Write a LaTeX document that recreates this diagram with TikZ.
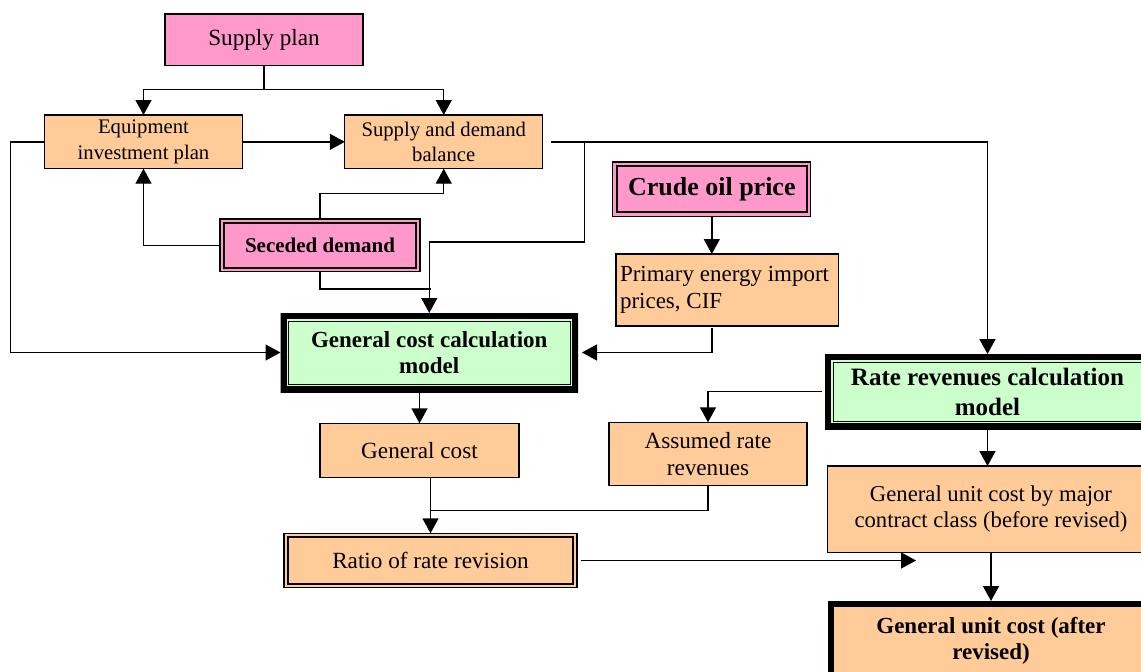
\documentclass[tikz,border=0pt]{standalone}
\usepackage{fontspec}
\setmainfont{Liberation Serif}
\usetikzlibrary{arrows.meta,calc}
\definecolor{pinkc}{RGB}{255,153,204}
\definecolor{orangec}{RGB}{255,204,153}
\definecolor{greenc}{RGB}{204,255,204}
\newcommand\fsTop{\fontsize{20.7}{25.7}\selectfont}
\newcommand\fsMid{\fontsize{23.2}{26.6}\selectfont}
\tikzset{
  box/.style={draw=black, line width=1.3pt, inner sep=0pt, outer sep=0pt, align=center},
  pinkbox/.style={box, fill=pinkc},
  orangebox/.style={box, fill=orangec},
  dblline/.style={path picture={\draw[line width=2.3pt]
      ([shift={(4pt,-4pt)}]path picture bounding box.north west) rectangle
      ([shift={(-4pt,4pt)}]path picture bounding box.south east);}},
  thickdbl/.style={inner sep=0pt, outer sep=0pt, align=center,
    path picture={\draw[line width=12pt]
      (path picture bounding box.north west) rectangle (path picture bounding box.south east);
      \draw[line width=1pt]
      ([shift={(8pt,-8pt)}]path picture bounding box.north west) rectangle
      ([shift={(-8pt,8pt)}]path picture bounding box.south east);}},
  thickone/.style={inner sep=0pt, outer sep=0pt, align=center,
    path picture={\draw[line width=12pt]
      (path picture bounding box.north west) rectangle (path picture bounding box.south east);}},
  conn/.style={line width=1.4pt},
  arr/.style={conn, -{Triangle[length=15pt,width=16pt]}},
}
\begin{document}
\begin{tikzpicture}[x=1pt,y=-1pt]
\useasboundingbox (0,0) rectangle (1141,672);
\fill[white] (0,0) rectangle (1141,672);
\clip (0,0) rectangle (1141,672);

% nodes
\node[pinkbox, minimum width=198pt, minimum height=51.7pt, font=\fsMid] (supply) at (264,39.85) {Supply plan};
\node[orangebox, minimum width=197.4pt, minimum height=53.7pt, font=\fsTop] (equip) at (143.5,141.85) {Equipment\\investment plan};
\node[orangebox, minimum width=197.9pt, minimum height=53.7pt, font=\fsTop] (sdb) at (443.75,141.85) {Supply and demand\\balance};
\node[pinkbox, dblline, minimum width=200pt, minimum height=52.7pt, font=\fontsize{21}{25}\selectfont\bfseries] (seceded) at (320,245.35) {Seceded demand};
\node[pinkbox, dblline, minimum width=198pt, minimum height=54.3pt, font=\fontsize{26}{30}\selectfont\bfseries] (crude) at (711.8,189) {Crude oil price};
\node[orangebox, text width=214.8pt, inner xsep=4pt, align=flush left, minimum height=72pt, font=\fontsize{23}{27.3}\selectfont] (primary) at (727.4,290) {Primary energy import\\prices, CIF};
\node[thickdbl, fill=greenc, minimum width=297.5pt, minimum height=79pt, font=\fontsize{23}{26.4}\selectfont\bfseries] (gccm) at (429.25,352.5) {General cost calculation\\model};
\node[thickdbl, fill=greenc, minimum width=325pt, minimum height=75pt, font=\fontsize{25}{30}\selectfont\bfseries] (rrcm) at (987.5,391.5) {Rate revenues calculation\\model};
\node[orangebox, minimum width=199pt, minimum height=54pt, font=\fsMid] (gcost) at (419.5,450.3) {General cost};
\node[orangebox, minimum width=198pt, minimum height=63.4pt, font=\fsMid] (assumed) at (708,454) {Assumed rate\\revenues};
\node[orangebox, dblline, minimum width=293pt, minimum height=54.4pt, font=\fsMid] (ratio) at (430.5,560.5) {Ratio of rate revision};
\node[orangebox, minimum width=327.4pt, minimum height=86.3pt, font=\fontsize{22.7}{26.2}\selectfont] (gucb) at (991,509.15) {General unit cost by major\\contract class (before revised)};
\node[thickone, fill=orangec, minimum width=326pt, minimum height=80pt, font=\fontsize{23}{26.5}\selectfont\bfseries] (guca) at (991,641) {General unit cost (after\\revised)};

\coordinate (jn) at (430.5,289);
\coordinate (rfree) at (916,561.7);

% connectors
\draw[arr] (supply.south) -- ++(0,24) coordinate (sj) -| (equip.north);
\draw[arr] (sj) -| (sdb.north);
\draw[arr] (equip.east) -- (sdb.west);
\draw[arr] (equip.west) -- ++(-34.5,0) |- (gccm.west);
\draw[arr] (seceded.west) -| (equip.south);
\draw[arr] (seceded.north) -- ++(0,-25.3) -| (sdb.south);
\draw[conn] (seceded.south) |- (jn);
\draw[arr, shorten <=8pt] (sdb.east) -- ++(42,0) -- ++(0,100) -| (gccm.north);
\draw[arr, shorten <=8pt] (sdb.east) -| (rrcm.north);
\draw[arr] (crude.south) -- (crude.south |- primary.north);
\draw[arr, shorten <=2pt, shorten >=4pt] (crude.south |- primary.south) |- (gccm.east);
\draw[arr] (gcost.north |- gccm.south) -- (gcost.north);
\draw[arr, shorten <=3pt] (rrcm.west) -| (assumed.north);
\draw[arr] (ratio.north |- gcost.south) -- (ratio.north);
\draw[conn] (assumed.south) -- ++(0,25) -| (ratio.north);
\draw[arr, shorten <=4pt] (ratio.east) -- (ratio.east -| rfree);
\draw[arr] (rrcm.south) -- (rrcm.south |- gucb.north);
\draw[arr] (gucb.south) -- (guca.north);
\end{tikzpicture}
\end{document}
